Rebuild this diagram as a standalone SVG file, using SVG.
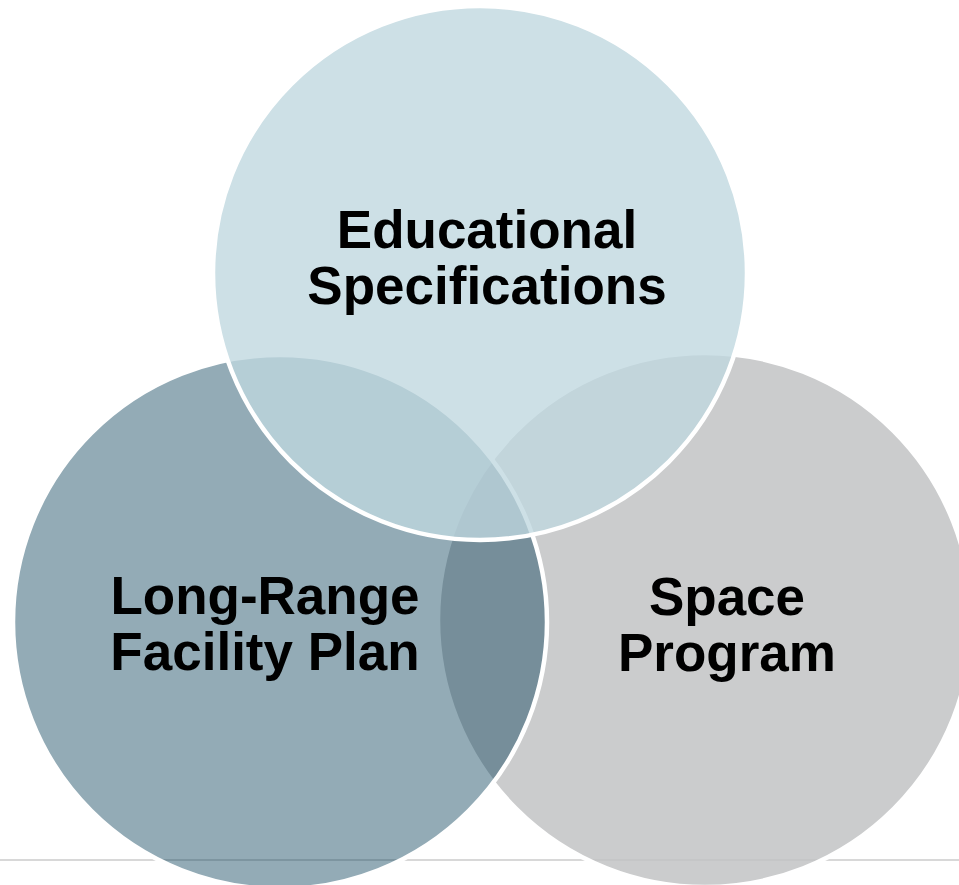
<svg xmlns="http://www.w3.org/2000/svg" width="959" height="885" viewBox="0 0 959 885">
<style>
.c{stroke:#ffffff;stroke-width:4.5}
.t{font-family:"Liberation Sans",Arial,sans-serif;font-weight:bold;font-size:53px;fill:#000000;text-anchor:middle}
</style>
<rect width="959" height="885" fill="#ffffff"/>
<g id="baseline">
<line x1="0" y1="860" x2="959" y2="860" stroke="#cbcbcb" stroke-width="1.6"/>
</g>
<g id="space-program">
<circle class="c" cx="705" cy="620" r="267" fill="#c2c3c4" fill-opacity="0.85"/>
</g>
<g id="long-range">
<circle class="c" cx="280" cy="622" r="267" fill="#0a4059" fill-opacity="0.44"/>
</g>
<g id="ed-specs">
<circle class="c" cx="480" cy="273" r="267" fill="#bfd7df" fill-opacity="0.78"/>
</g>
<g id="labels">
<text class="t" x="487" y="248">Educational</text>
<text class="t" x="487" y="304">Specifications</text>
<text class="t" x="265" y="614">Long-Range</text>
<text class="t" x="265" y="670">Facility Plan</text>
<text class="t" x="727" y="615">Space</text>
<text class="t" x="727" y="671">Program</text>
</g>
</svg>
